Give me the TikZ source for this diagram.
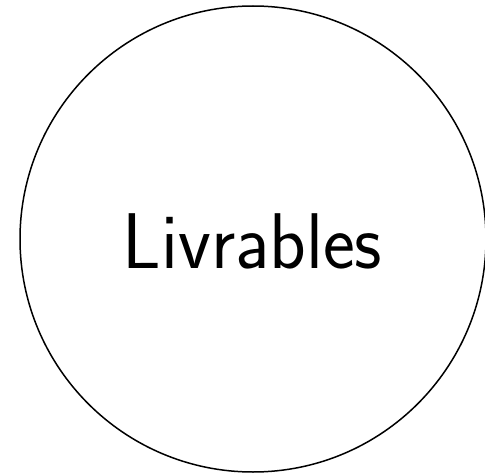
\documentclass[tikz,border=0pt]{standalone}
\begin{document}
\begin{tikzpicture}[x=1pt,y=1pt,
  ring/.style={draw=black,line width=1.5pt},
  lbl/.style={font=\sffamily\fontsize{79}{82}\selectfont,inner sep=0pt,xscale=0.96}]
\useasboundingbox (0,0) rectangle (485,475);
\node[ring,circle,minimum size=466pt,inner sep=0pt] (c) at (253,236) {};
\node[lbl,anchor=base] (t) at (252.5,207) {Livrables};
\end{tikzpicture}
\end{document}
